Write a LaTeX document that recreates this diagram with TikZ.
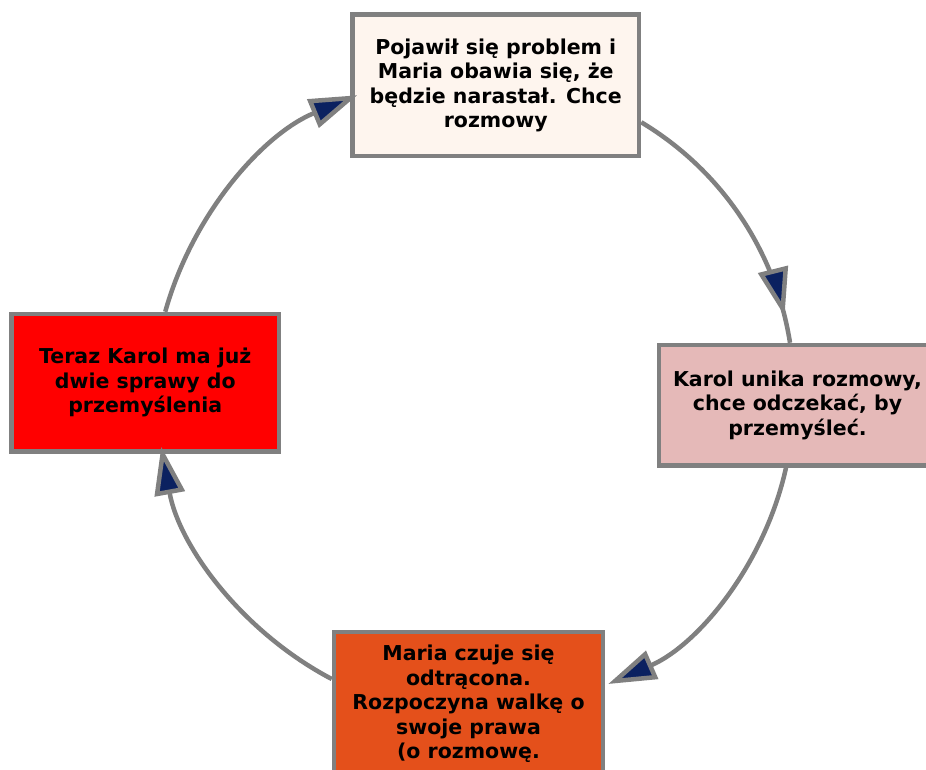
\documentclass[tikz,border=0pt]{standalone}
\usepackage{fontspec}
\setmainfont{DejaVu Sans}
\usetikzlibrary{arrows.meta,decorations.markings}
\definecolor{edgegray}{HTML}{808080}
\definecolor{navyfill}{HTML}{0B2160}
\definecolor{topfill}{HTML}{FEF5EE}
\definecolor{rightfill}{HTML}{E5B9B8}
\definecolor{leftfill}{HTML}{FF0000}
\definecolor{bottomfill}{HTML}{E4501B}
\tikzset{
  box/.style={draw=edgegray, line width=4.5pt, rectangle, inner sep=0pt, align=center,
    font=\fontsize{20.5}{24.5}\selectfont\bfseries},
  conn/.style={draw=edgegray, line width=4.5pt},
  tipshape/.style={-{Triangle[length=48pt,width=30pt,fill=navyfill]}},
}
\begin{document}
\begin{tikzpicture}[x=1pt,y=1pt]
\useasboundingbox (0,0) rectangle (926,-769);
\fill[white] (0,0) rectangle (926,-769);
\clip (0,0) rectangle (926,-769);
\node[box, fill=topfill, minimum width=286.5pt, minimum height=141.5pt] (top) at (495.75,-85.25)
  {Pojawił się problem i\\Maria obawia się, że\\będzie narastał. Chce\\rozmowy};
\node[box, fill=rightfill, minimum width=277pt, minimum height=120.5pt] (right) at (797.5,-405.25)
  {Karol unika rozmowy,\\chce odczekać, by\\przemyśleć.};
\node[box, fill=leftfill, minimum width=267.5pt, minimum height=137.5pt] (left) at (145.25,-382.75)
  {Teraz Karol ma już\\dwie sprawy do\\przemyślenia};
\node[box, fill=bottomfill, minimum width=269pt, minimum height=144pt] (bottom) at (468.5,-704)
  {Maria czuje się\\odtrącona.\\Rozpoczyna walkę o\\swoje prawa\\(o rozmowę.};
% connectors
\draw[conn, postaction={decorate}, decoration={markings,
    mark=at position 0.9 with {\arrow{Triangle[length=48pt,width=30pt,fill=navyfill]}}}]
  ([yshift=-37pt]top.east) to[bend left=25, looseness=0.9] ([xshift=-7.5pt]right.north);
\draw[conn, tipshape]
  ([xshift=-11.5pt]right.south) to[bend left=27, looseness=0.9] ([xshift=3pt,yshift=20pt]bottom.east);
\draw[conn, tipshape]
  ([yshift=25pt]bottom.west) to[bend left=26, looseness=0.9] ([xshift=16pt,yshift=7pt]left.south);
\draw[conn, tipshape]
  ([xshift=20pt]left.north) to[bend left=26, looseness=0.9] ([xshift=7pt,yshift=-10pt]top.west);
\end{tikzpicture}
\end{document}
